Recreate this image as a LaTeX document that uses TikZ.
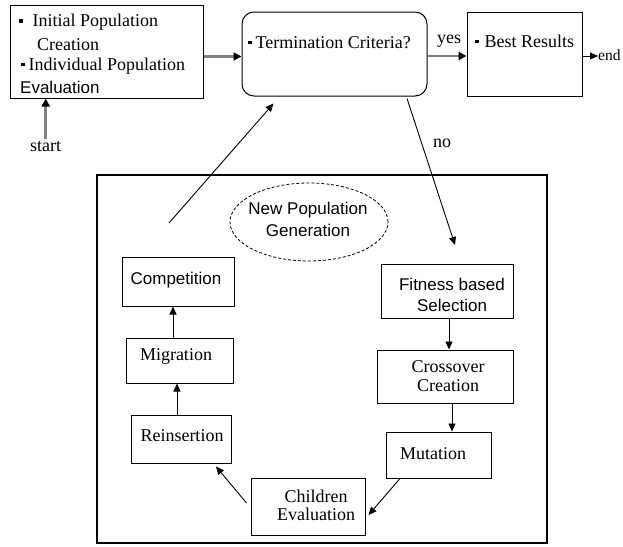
\documentclass[tikz,border=0pt]{standalone}
\usepackage{fontspec}
\setmainfont{Liberation Serif}
\setsansfont{Liberation Sans}
\usetikzlibrary{arrows.meta,shapes.geometric}
\newcommand\sqb{\rule[4pt]{3.5pt}{3.5pt}}
\begin{document}
\begin{tikzpicture}[x=1pt,y=-1pt,
 box/.style={draw, line width=1pt, inner sep=0pt},
 txt/.style={inner sep=0pt, anchor=base, font=\fontsize{18}{20}\selectfont},
 txtw/.style={txt, anchor=base west},
 stxt/.style={inner sep=0pt, anchor=base, font=\sffamily\fontsize{17}{20}\selectfont},
 arr/.style={draw, line width=0.9pt, -{Triangle[length=8pt,width=7pt]}},
 garr/.style={draw=gray, line width=2.5pt, -{Triangle[length=8pt,width=8pt,color=black]}},
]
\useasboundingbox[fill=white] (0,0) rectangle (623,546);

% boxes
\node[box, minimum width=193pt, minimum height=93pt] (init) at (106.5,51.5) {};
\node[box, rounded corners=12pt, minimum width=185pt, minimum height=84pt] (term) at (334.5,54) {};
\node[box, minimum width=115pt, minimum height=84pt] (best) at (524.5,54) {};
\node[box, line width=1.2pt, minimum width=450pt, minimum height=368pt] (gen) at (322,359) {};
\node[draw, dashed, dash pattern=on 3pt off 2pt, ellipse, minimum width=158pt, minimum height=78pt, line width=0.8pt] (npg) at (309,222) {};
\node[box, minimum width=112pt, minimum height=49pt] (comp) at (178,281.5) {};
\node[box, minimum width=107pt, minimum height=45pt] (mig) at (179.5,360.5) {};
\node[box, minimum width=100pt, minimum height=48pt] (rein) at (181,439) {};
\node[box, minimum width=114pt, minimum height=57pt] (child) at (308,506.5) {};
\node[box, minimum width=105pt, minimum height=46pt] (mut) at (438.5,455) {};
\node[box, minimum width=132pt, minimum height=54pt] (fit) at (447,291) {};
\node[box, minimum width=136pt, minimum height=53pt] (cross) at (445,376.5) {};

% texts
\node[txtw] (it1) at (19,27) {\sqb\hspace{10pt}Initial Population};
\node[txtw] (it2) at (37,50) {Creation};
\node[txtw] (it3) at (21,70) {\sqb\hspace{4pt}Individual Population};
\node[stxt, anchor=base west] (it4) at (20,93) {Evaluation};
\node[txtw] (termt) at (248,48) {\sqb\hspace{4pt}Termination Criteria?};
\node[txtw] (bestt) at (475,47) {\sqb\hspace{6pt}Best Results};
\node[txtw] (yes) at (437,43) {yes};
\node[txtw] (no) at (433,147) {no};
\node[txtw] (startt) at (30,151) {start};
\node[txtw, font=\fontsize{15.5}{18}\selectfont] (endt) at (598,60) {end};
\node[stxt] (npg1) at (308,214) {New Population};
\node[stxt] (npg2) at (308,236) {Generation};
\node[stxt] (compt) at (176,284) {Competition};
\node[txt] (migt) at (176,360) {Migration};
\node[txt] (reint) at (182,441) {Reinsertion};
\node[txt] (childt1) at (316,502) {Children};
\node[txt] (childt2) at (316,520) {Evaluation};
\node[txt] (mutt) at (433,459) {Mutation};
\node[stxt] (fitt1) at (452,290) {Fitness based};
\node[stxt] (fitt2) at (452,311) {Selection};
\node[txt] (crosst1) at (448,372) {Crossover};
\node[txt] (crosst2) at (448,391) {Creation};

% connectors
\draw[garr] ([yshift=2pt]startt.north) -- (startt.north |- init.south);
\coordinate (a1) at ([yshift=-5pt]init.east);
\draw[garr] (a1) -- (a1 -| term.west);
\coordinate (a2) at ([yshift=-2pt]term.east);
\draw[garr] (a2) -- (a2 -| best.west);
\coordinate (a3) at ([yshift=-2pt]best.east);
\draw[arr] (a3) -- (a3 -| endt.west);
\coordinate (nostart) at ([xshift=72.5pt,yshift=-2pt]term.south);
\coordinate (noend) at (455,245);
\draw[arr] (nostart) -- (noend);
\coordinate (upstart) at (169,223);
\draw[arr] (upstart) -- ([xshift=-61pt,yshift=-7pt]term.south);
\coordinate (b1) at ([xshift=2pt]fit.south);
\draw[arr] (b1) -- (b1 |- cross.north);
\coordinate (b2) at ([xshift=7pt]cross.south);
\draw[arr] (b2) -- (b2 |- mut.north);
\draw[arr] ([xshift=-38.5pt]mut.south) -- ([xshift=3pt,yshift=-8.5pt]child.east);
\draw[arr] ([xshift=-4pt,yshift=3.5pt]child.west) -- ([xshift=35pt,yshift=-3pt]rein.south);
\coordinate (b3) at ([xshift=-4pt]rein.north);
\draw[arr] (b3) -- (b3 |- mig.south);
\coordinate (b4) at ([xshift=-6.5pt]mig.north);
\draw[arr] (b4) -- (b4 |- comp.south);
\end{tikzpicture}
\end{document}
